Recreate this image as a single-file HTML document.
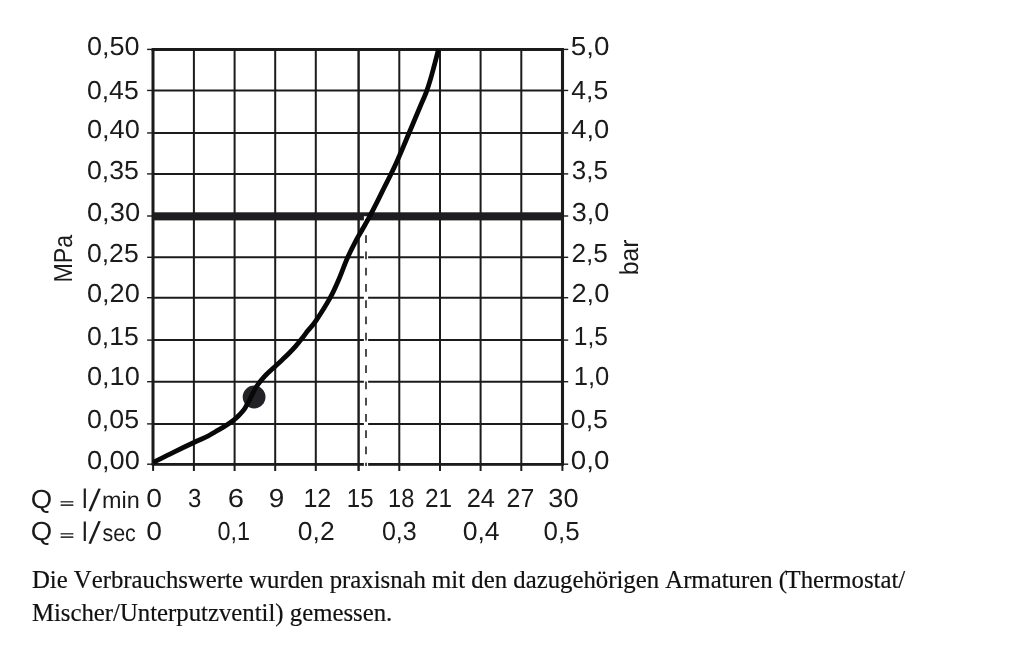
<!DOCTYPE html>
<html lang="de"><head><meta charset="utf-8"><title>Durchflussdiagramm</title>
<style>html,body{margin:0;padding:0;background:#fff}body{width:1024px;height:652px;overflow:hidden}svg{display:block}.s{font-family:"Liberation Sans",sans-serif;font-size:26.0px;fill:#1b1b1b;text-rendering:geometricPrecision}.t{font-family:"Liberation Serif",serif;font-size:24.77px;fill:#111;font-kerning:none;stroke:#111;stroke-width:0.2px}</style></head><body>
<svg width="1024" height="652" viewBox="0 0 1024 652">
<rect width="1024" height="652" fill="#fff"/>
<g transform="translate(0.4,0)">
<g stroke="#1b1b1b" fill="none"><line x1="193.50" y1="49.40" x2="193.50" y2="470.90" stroke-width="2.0"/><line x1="234.20" y1="49.40" x2="234.20" y2="470.90" stroke-width="2.0"/><line x1="274.80" y1="49.40" x2="274.80" y2="470.90" stroke-width="2.0"/><line x1="315.40" y1="49.40" x2="315.40" y2="470.90" stroke-width="2.0"/><line x1="358.20" y1="49.40" x2="358.20" y2="470.90" stroke-width="2.4"/><line x1="398.90" y1="49.40" x2="398.90" y2="470.90" stroke-width="2.0"/><line x1="439.60" y1="49.40" x2="439.60" y2="470.90" stroke-width="2.0"/><line x1="480.20" y1="49.40" x2="480.20" y2="470.90" stroke-width="2.0"/><line x1="520.90" y1="49.40" x2="520.90" y2="470.90" stroke-width="2.0"/><line x1="152.70" y1="49.40" x2="562.00" y2="49.40" stroke-width="2.0"/><line x1="146.70" y1="49.40" x2="152.70" y2="49.40" stroke-width="1.4"/><line x1="562.00" y1="49.40" x2="567.80" y2="49.40" stroke-width="1.4"/><line x1="152.70" y1="90.45" x2="562.00" y2="90.45" stroke-width="2.0"/><line x1="146.70" y1="90.45" x2="152.70" y2="90.45" stroke-width="1.4"/><line x1="562.00" y1="90.45" x2="567.80" y2="90.45" stroke-width="1.4"/><line x1="152.70" y1="132.95" x2="562.00" y2="132.95" stroke-width="2.0"/><line x1="146.70" y1="132.95" x2="152.70" y2="132.95" stroke-width="1.4"/><line x1="562.00" y1="132.95" x2="567.80" y2="132.95" stroke-width="1.4"/><line x1="152.70" y1="173.90" x2="562.00" y2="173.90" stroke-width="2.0"/><line x1="146.70" y1="173.90" x2="152.70" y2="173.90" stroke-width="1.4"/><line x1="562.00" y1="173.90" x2="567.80" y2="173.90" stroke-width="1.4"/><line x1="152.70" y1="216.00" x2="562.00" y2="216.00" stroke-width="2.0"/><line x1="146.70" y1="216.00" x2="152.70" y2="216.00" stroke-width="1.4"/><line x1="562.00" y1="216.00" x2="567.80" y2="216.00" stroke-width="1.4"/><line x1="152.70" y1="257.30" x2="562.00" y2="257.30" stroke-width="2.0"/><line x1="146.70" y1="257.30" x2="152.70" y2="257.30" stroke-width="1.4"/><line x1="562.00" y1="257.30" x2="567.80" y2="257.30" stroke-width="1.4"/><line x1="152.70" y1="297.70" x2="562.00" y2="297.70" stroke-width="2.0"/><line x1="146.70" y1="297.70" x2="152.70" y2="297.70" stroke-width="1.4"/><line x1="562.00" y1="297.70" x2="567.80" y2="297.70" stroke-width="1.4"/><line x1="152.70" y1="340.10" x2="562.00" y2="340.10" stroke-width="2.0"/><line x1="146.70" y1="340.10" x2="152.70" y2="340.10" stroke-width="1.4"/><line x1="562.00" y1="340.10" x2="567.80" y2="340.10" stroke-width="1.4"/><line x1="152.70" y1="381.70" x2="562.00" y2="381.70" stroke-width="2.0"/><line x1="146.70" y1="381.70" x2="152.70" y2="381.70" stroke-width="1.4"/><line x1="562.00" y1="381.70" x2="567.80" y2="381.70" stroke-width="1.4"/><line x1="152.70" y1="423.90" x2="562.00" y2="423.90" stroke-width="2.0"/><line x1="146.70" y1="423.90" x2="152.70" y2="423.90" stroke-width="1.4"/><line x1="562.00" y1="423.90" x2="567.80" y2="423.90" stroke-width="1.4"/><line x1="152.70" y1="464.20" x2="562.00" y2="464.20" stroke-width="2.0"/><line x1="146.70" y1="464.20" x2="152.70" y2="464.20" stroke-width="1.4"/><line x1="562.00" y1="464.20" x2="567.80" y2="464.20" stroke-width="1.4"/><line x1="152.70" y1="464.20" x2="152.70" y2="470.90" stroke-width="2.0"/><line x1="562.00" y1="464.20" x2="562.00" y2="470.90" stroke-width="2.0"/></g>
<g stroke="#1b1b1b" fill="none">
<line x1="151.20" y1="49.5" x2="563.55" y2="49.5" stroke-width="2.8"/>
<line x1="151.20" y1="464.45" x2="563.55" y2="464.45" stroke-width="2.8"/>
<line x1="152.6" y1="49.5" x2="152.6" y2="464.45" stroke-width="3.0"/>
<line x1="562.1" y1="49.5" x2="562.1" y2="464.45" stroke-width="3.1"/>
</g>
<rect x="152.70" y="212.3" width="409.30" height="8.1" fill="#1e1e22"/>
<line x1="365.6" y1="216.2" x2="365.6" y2="466" stroke="#fff" stroke-width="4.2"/>
<line x1="365.6" y1="219.0" x2="365.6" y2="465.9" stroke="#1b1b1b" stroke-width="1.55" stroke-dasharray="7.8 8.45"/>
<circle cx="253.7" cy="397.0" r="11.4" fill="#232327"/>
<path d="M152.70 462.50 C156.08 460.80 166.20 455.63 173.00 452.30 C179.80 448.97 187.75 445.19 193.50 442.50 C199.25 439.81 203.92 437.95 207.50 436.15 C211.08 434.35 212.12 433.39 215.00 431.70 C217.88 430.01 221.61 428.06 224.80 426.00 C227.99 423.94 231.70 421.30 234.15 419.35 C236.60 417.40 237.89 415.96 239.50 414.30 C241.11 412.64 242.62 411.03 243.80 409.40 C244.98 407.77 245.67 406.13 246.60 404.50 C247.53 402.87 248.62 401.08 249.40 399.60 C250.18 398.12 250.63 396.98 251.30 395.60 C251.97 394.22 252.62 392.77 253.40 391.30 C254.18 389.83 255.10 388.23 256.00 386.80 C256.90 385.37 257.80 384.03 258.80 382.70 C259.80 381.37 260.80 380.17 262.00 378.80 C263.20 377.43 264.58 375.93 266.00 374.50 C267.42 373.07 268.97 371.63 270.50 370.20 C272.03 368.77 273.25 367.68 275.20 365.90 C277.15 364.12 279.96 361.60 282.20 359.50 C284.44 357.40 286.50 355.48 288.65 353.30 C290.80 351.12 293.23 348.53 295.10 346.40 C296.98 344.27 298.47 342.28 299.90 340.50 C301.33 338.72 302.42 337.35 303.70 335.70 C304.98 334.05 305.58 333.17 307.60 330.60 C309.62 328.03 312.12 325.75 315.80 320.30 C319.48 314.85 325.95 304.67 329.70 297.90 C333.45 291.13 335.43 286.32 338.30 279.70 C341.17 273.08 344.00 264.77 346.90 258.20 C349.80 251.63 353.07 245.28 355.70 240.30 C358.32 235.32 360.37 232.33 362.65 228.30 C364.93 224.27 367.01 220.60 369.40 216.10 C371.79 211.60 374.62 206.02 377.00 201.30 C379.38 196.58 381.45 192.30 383.70 187.80 C385.95 183.30 388.25 178.95 390.50 174.30 C392.75 169.65 395.05 164.68 397.20 159.90 C399.35 155.12 401.68 149.62 403.40 145.60 C405.12 141.58 405.80 139.85 407.50 135.80 C409.20 131.75 411.50 126.30 413.60 121.30 C415.70 116.30 418.03 110.72 420.10 105.80 C422.17 100.88 424.37 96.12 426.00 91.80 C427.63 87.48 428.62 84.18 429.90 79.90 C431.18 75.62 432.55 70.37 433.70 66.10 C434.85 61.83 436.08 57.03 436.80 54.30 C437.52 51.57 437.80 50.47 438.00 49.70" fill="none" stroke="#080808" stroke-width="4.8" stroke-linecap="butt" stroke-linejoin="round"/>
</g>
<text class="s" transform="translate(86.92,55.00) scale(1.0401,1)">0,50</text>
<text class="s" transform="translate(86.94,99.20) scale(1.0229,1)">0,45</text>
<text class="s" transform="translate(86.91,138.20) scale(1.0462,1)">0,40</text>
<text class="s" transform="translate(86.93,178.80) scale(1.0270,1)">0,35</text>
<text class="s" transform="translate(86.91,221.30) scale(1.0504,1)">0,30</text>
<text class="s" transform="translate(86.94,262.10) scale(1.0229,1)">0,25</text>
<text class="s" transform="translate(86.91,302.45) scale(1.0462,1)">0,20</text>
<text class="s" transform="translate(86.93,344.65) scale(1.0250,1)">0,15</text>
<text class="s" transform="translate(86.91,385.45) scale(1.0462,1)">0,10</text>
<text class="s" transform="translate(86.93,428.35) scale(1.0291,1)">0,05</text>
<text class="s" transform="translate(86.91,468.55) scale(1.0462,1)">0,00</text>
<text class="s" transform="translate(570.79,55.00) scale(1.0696,1)">5,0</text>
<text class="s" transform="translate(571.30,99.20) scale(1.0198,1)">4,5</text>
<text class="s" transform="translate(571.28,138.20) scale(1.0526,1)">4,0</text>
<text class="s" transform="translate(571.83,178.80) scale(0.9993,1)">3,5</text>
<text class="s" transform="translate(571.79,221.30) scale(1.0383,1)">3,0</text>
<text class="s" transform="translate(571.49,262.10) scale(1.0089,1)">2,5</text>
<text class="s" transform="translate(571.44,302.45) scale(1.0483,1)">2,0</text>
<text class="s" transform="translate(573.76,344.65) scale(0.9442,1)">1,5</text>
<text class="s" transform="translate(573.68,385.45) scale(0.9845,1)">1,0</text>
<text class="s" transform="translate(570.83,428.35) scale(1.0276,1)">0,5</text>
<text class="s" transform="translate(570.79,468.55) scale(1.0667,1)">0,0</text>
<text class="s" transform="translate(72.20,282.62) rotate(-90) scale(0.8930,1)">MPa</text>
<text class="s" transform="translate(638.20,275.20) rotate(-90) scale(0.9496,1)">bar</text>
<text class="s"><tspan x="30.79" y="507.85" font-size="26.00" textLength="21.43" lengthAdjust="spacingAndGlyphs">Q</tspan> <tspan x="59.81" y="507.79" font-size="13.64" textLength="14.51" lengthAdjust="spacingAndGlyphs" stroke="#1e1e1c" stroke-width="0.35">=</tspan> <tspan x="82.10" y="507.90" font-size="26.90" textLength="5.59" lengthAdjust="spacingAndGlyphs">l</tspan><tspan x="88.40" y="510.75" font-size="32.45" rotate="8.2">/</tspan><tspan x="102.02" y="507.90" font-size="23.45" textLength="37.68" lengthAdjust="spacingAndGlyphs">min</tspan></text>
<text class="s"><tspan x="30.79" y="540.45" font-size="26.00" textLength="21.43" lengthAdjust="spacingAndGlyphs">Q</tspan> <tspan x="59.81" y="540.39" font-size="13.64" textLength="14.51" lengthAdjust="spacingAndGlyphs" stroke="#1e1e1c" stroke-width="0.35">=</tspan> <tspan x="82.10" y="540.50" font-size="26.90" textLength="5.59" lengthAdjust="spacingAndGlyphs">l</tspan><tspan x="88.40" y="543.35" font-size="32.45" rotate="8.2">/</tspan><tspan x="102.41" y="540.86" font-size="23.56" textLength="33.41" lengthAdjust="spacingAndGlyphs">sec</tspan></text>
<text class="s" transform="translate(146.37,507.35) scale(1.0874,1)">0</text>
<text class="s" transform="translate(187.90,507.35) scale(0.9231,1)">3</text>
<text class="s" transform="translate(227.64,507.35) scale(1.1227,1)">6</text>
<text class="s" transform="translate(268.78,507.35) scale(1.0728,1)">9</text>
<text class="s" transform="translate(303.42,507.35) scale(0.9645,1)">12</text>
<text class="s" transform="translate(346.80,507.35) scale(0.9239,1)">15</text>
<text class="s" transform="translate(388.03,507.35) scale(0.9068,1)">18</text>
<text class="s" transform="translate(424.98,507.35) scale(0.9383,1)">21</text>
<text class="s" transform="translate(466.73,507.35) scale(0.9760,1)">24</text>
<text class="s" transform="translate(506.56,507.35) scale(0.9558,1)">27</text>
<text class="s" transform="translate(548.28,507.35) scale(1.0442,1)">30</text>
<text class="s" transform="translate(146.37,539.70) scale(1.0874,1)">0</text>
<text class="s" transform="translate(217.56,539.70) scale(0.9006,1)">0,1</text>
<text class="s" transform="translate(297.84,539.70) scale(1.0178,1)">0,2</text>
<text class="s" transform="translate(381.90,539.70) scale(0.9648,1)">0,3</text>
<text class="s" transform="translate(462.64,539.70) scale(1.0237,1)">0,4</text>
<text class="s" transform="translate(543.56,539.70) scale(0.9982,1)">0,5</text>
<text class="t" x="31.9" y="588.0">Die Verbrauchswerte wurden praxisnah mit den dazugehörigen Armaturen (<tspan dx="-1.4">Thermostat/</tspan></text>
<text class="t" x="31.9" y="621.3">Mischer/Unterputzventil) gemessen.</text>
</svg></body></html>
